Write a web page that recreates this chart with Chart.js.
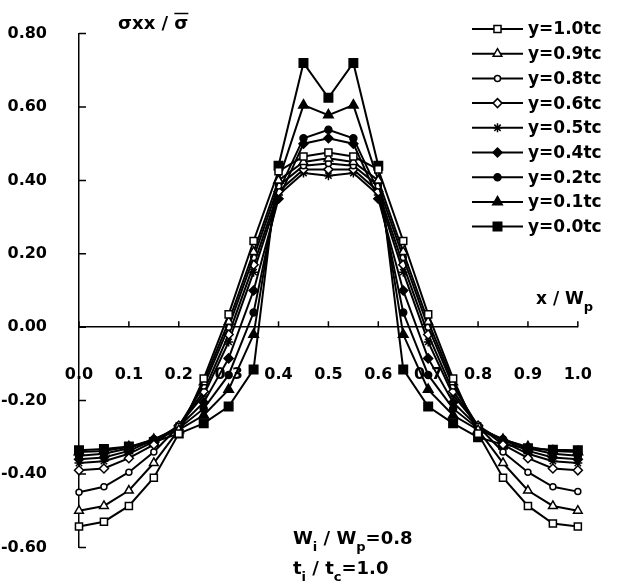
<!DOCTYPE html>
<html>
<head>
<meta charset="utf-8">
<script src="https://cdn.jsdelivr.net/npm/chart.js@4.4.1/dist/chart.umd.min.js"></script>
<style>
  html, body { margin: 0; padding: 0; background: #fff; }
  #wrap { width: 622px; height: 581px; }
</style>
</head>
<body>
<div id="wrap"><canvas id="stressChart" width="622" height="581"></canvas></div>
<script>
// positions along the plate width, x / Wp
const xPos = [0.0, 0.05, 0.1, 0.15, 0.2, 0.25, 0.3, 0.35, 0.4, 0.45, 0.5,
              0.55, 0.6, 0.65, 0.7, 0.75, 0.8, 0.85, 0.9, 0.95, 1.0];
const xTicks = [0.0, 0.1, 0.2, 0.3, 0.4, 0.5, 0.6, 0.7, 0.8, 0.9, 1.0];
const yTicks = [-0.6, -0.4, -0.2, 0.0, 0.2, 0.4, 0.6, 0.8];

const seriesLabels = ["y=1.0tc", "y=0.9tc", "y=0.8tc", "y=0.6tc", "y=0.5tc",
                      "y=0.4tc", "y=0.2tc", "y=0.1tc", "y=0.0tc"];

// sigma_xx / sigma-bar
const y10 = [-0.543, -0.530, -0.487, -0.410, -0.290, -0.140, 0.035, 0.235, 0.425, 0.465, 0.476,
             0.465, 0.430, 0.235, 0.035, -0.140, -0.290, -0.410, -0.487, -0.535, -0.543];
const y09 = [-0.500, -0.487, -0.445, -0.370, -0.280, -0.150, 0.015, 0.205, 0.400, 0.450, 0.460,
             0.450, 0.400, 0.205, 0.015, -0.150, -0.280, -0.370, -0.445, -0.487, -0.500];
const y08 = [-0.450, -0.435, -0.395, -0.340, -0.270, -0.160, 0.000, 0.190, 0.385, 0.440, 0.446,
             0.440, 0.385, 0.190, 0.000, -0.160, -0.270, -0.340, -0.395, -0.435, -0.448];
const y06 = [-0.390, -0.385, -0.357, -0.320, -0.268, -0.175, -0.020, 0.170, 0.370, 0.430, 0.430,
             0.430, 0.370, 0.170, -0.020, -0.175, -0.268, -0.320, -0.357, -0.385, -0.390];
const y05 = [-0.370, -0.365, -0.345, -0.312, -0.268, -0.185, -0.040, 0.150, 0.360, 0.420, 0.413,
             0.420, 0.360, 0.150, -0.040, -0.185, -0.268, -0.312, -0.345, -0.365, -0.370];
const y04 = [-0.360, -0.355, -0.337, -0.307, -0.272, -0.205, -0.085, 0.100, 0.350, 0.500, 0.515,
             0.500, 0.350, 0.100, -0.085, -0.205, -0.272, -0.307, -0.337, -0.355, -0.360];
const y02 = [-0.350, -0.345, -0.330, -0.305, -0.276, -0.222, -0.130, 0.040, 0.370, 0.515, 0.538,
             0.515, 0.370, 0.040, -0.130, -0.222, -0.276, -0.305, -0.330, -0.345, -0.350];
const y01 = [-0.340, -0.337, -0.326, -0.306, -0.280, -0.240, -0.170, -0.020, 0.400, 0.605, 0.578,
             0.605, 0.400, -0.020, -0.170, -0.240, -0.280, -0.306, -0.326, -0.337, -0.340];
const y00 = [-0.335, -0.332, -0.325, -0.313, -0.290, -0.262, -0.216, -0.115, 0.440, 0.720, 0.625,
             0.720, 0.440, -0.115, -0.216, -0.262, -0.300, -0.320, -0.330, -0.334, -0.335];

const seriesValues = [y10, y09, y08, y06, y05, y04, y02, y01, y00];
const markerStyles = ["rect", "triangle", "circle", "rectRot", "star", "rectRot", "circle", "triangle", "rect"];
const markerSizes = [5, 5, 3, 4.5, 4.5, 4.5, 3.5, 5.5, 6];
const markerFills = ["#fff", "#fff", "#fff", "#fff", "#fff", "#000", "#000", "#000", "#000"];

const FONT = "'DejaVu Sans', 'Liberation Sans', Arial, sans-serif";

function el(id) {
  return document.getElementById(id);
}

// ticks that point into the plot, like the original
const inwardTicks = {
  id: "inwardTicks",
  beforeDatasetsDraw(chart) {
    const { ctx, scales: { x, y } } = chart;
    const y0 = y.getPixelForValue(0);
    ctx.save();
    ctx.strokeStyle = "#000";
    ctx.lineWidth = 1.5;
    ctx.beginPath();
    x.ticks.forEach(t => {
      const px = x.getPixelForValue(t.value);
      ctx.moveTo(px, y0);
      ctx.lineTo(px, y0 - 6);
    });
    y.ticks.forEach(t => {
      const py = y.getPixelForValue(t.value);
      ctx.moveTo(x.left, py);
      ctx.lineTo(x.left + 7, py);
    });
    ctx.stroke();
    ctx.restore();
  },
};

// line + marker legend in the top right corner
const sampleLegend = {
  id: "sampleLegend",
  afterDraw(chart) {
    const ctx = chart.ctx;
    ctx.save();
    ctx.font = `bold 17px ${FONT}`;
    ctx.textBaseline = "middle";
    ctx.fillStyle = "#000";
    chart.data.datasets.forEach((ds, i) => {
      const yy = 29 + i * 24.7;
      ctx.strokeStyle = "#000";
      ctx.lineWidth = 2;
      ctx.beginPath();
      ctx.moveTo(472, yy);
      ctx.lineTo(523, yy);
      ctx.stroke();
      ctx.fillStyle = ds.pointBackgroundColor;
      ctx.lineWidth = 1.5;
      Chart.helpers.drawPoint(ctx, { pointStyle: ds.pointStyle, radius: ds.pointRadius, rotation: 0, borderWidth: 1.5 }, 497.5, yy);
      ctx.fillStyle = "#000";
      ctx.fillText(ds.label, 528, yy + 1);
    });
    ctx.restore();
  },
};

function drawParts(ctx, x, y, parts, size, subSize) {
  let cx = x;
  parts.forEach(([txt, sub]) => {
    ctx.font = `bold ${sub ? subSize : size}px ${FONT}`;
    ctx.fillText(txt, cx, sub ? y + 7 : y);
    cx += ctx.measureText(txt).width;
  });
  return cx;
}

const notes = {
  id: "notes",
  afterDraw(chart) {
    const ctx = chart.ctx;
    ctx.save();
    ctx.fillStyle = "#000";
    ctx.strokeStyle = "#000";
    ctx.textBaseline = "alphabetic";
    // y axis title with barred sigma
    ctx.font = `bold 18px ${FONT}`;
    const head = "σxx / ";
    ctx.fillText(head, 118, 29);
    const hx = 118 + ctx.measureText(head).width;
    ctx.fillText("σ", hx, 29);
    const sw = ctx.measureText("σ").width;
    ctx.lineWidth = 1.5;
    ctx.beginPath();
    ctx.moveTo(hx, 13.5);
    ctx.lineTo(hx + sw, 13.5);
    ctx.stroke();
    // x axis title
    drawParts(ctx, 536, 304, [["x / W", false], ["p", true]], 17, 13);
    // geometry notes
    drawParts(ctx, 293, 544, [["W", false], ["i", true], [" / W", false], ["p", true], ["=0.8", false]], 18, 13);
    drawParts(ctx, 293, 574, [["t", false], ["i", true], [" / t", false], ["c", true], ["=1.0", false]], 18, 13);
    ctx.restore();
  },
};

const datasets = seriesValues.map((vals, i) => ({
  label: seriesLabels[i],
  data: vals.map((v, j) => ({ x: xPos[j], y: v })),
  borderColor: "#000",
  borderWidth: 2,
  pointStyle: markerStyles[i],
  pointRadius: markerSizes[i],
  pointBackgroundColor: markerFills[i],
  pointBorderColor: "#000",
  pointBorderWidth: 1.5,
  tension: 0,
  clip: false,
}));

new Chart(el("stressChart"), {
  type: "line",
  data: { datasets },
  plugins: [inwardTicks, sampleLegend, notes],
  options: {
    responsive: false,
    animation: false,
    devicePixelRatio: 1,
    layout: { padding: { top: 21, right: 15, bottom: 7, left: 0 } },
    plugins: { legend: { display: false }, tooltip: { enabled: false } },
    scales: {
      x: {
        type: "linear",
        min: 0,
        max: 1,
        position: { y: 0 },
        afterBuildTicks: s => { s.ticks = xTicks.map(v => ({ value: v })); },
        ticks: {
          callback: v => Number(v).toFixed(1),
          color: "#000",
          font: { family: FONT, size: 16, weight: "bold" },
          padding: 30,
          maxRotation: 0,
          autoSkip: false,
        },
        grid: { display: false },
        border: { display: true, color: "#000", width: 1.5 },
      },
      y: {
        type: "linear",
        min: -0.6,
        max: 0.8,
        afterBuildTicks: s => { s.ticks = yTicks.map(v => ({ value: v })); },
        afterFit: s => { s.width = 79; },
        ticks: {
          callback: v => Number(v).toFixed(2),
          color: "#000",
          font: { family: FONT, size: 16, weight: "bold" },
          padding: 24,
        },
        grid: { display: false },
        border: { display: true, color: "#000", width: 1.5 },
      },
    },
  },
});
</script>
</body>
</html>
